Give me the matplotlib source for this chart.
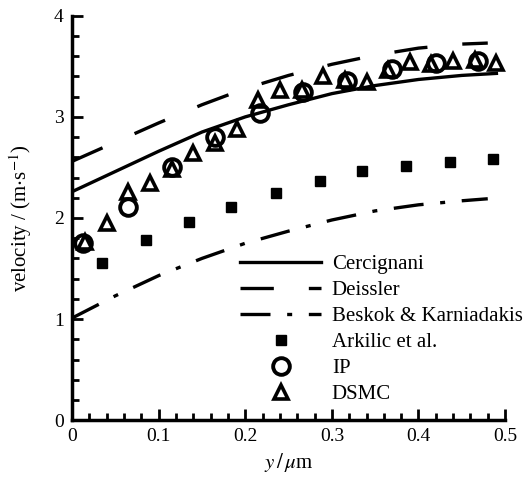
import numpy as np
import matplotlib
matplotlib.use('Agg')
import matplotlib.pyplot as plt
from matplotlib.ticker import MultipleLocator

plt.rcParams['font.family'] = 'Liberation Serif'
plt.rcParams['mathtext.fontset'] = 'stix'

# model curves
x_line = [0, 0.05, 0.1, 0.15, 0.2, 0.25, 0.3, 0.35, 0.4, 0.45, 0.49]
cercignani = [2.26, 2.46, 2.66, 2.85, 3.00, 3.12, 3.23, 3.31, 3.37, 3.41, 3.43]
x_deiss = [0, 0.05, 0.1, 0.15, 0.2, 0.25, 0.3, 0.35, 0.4, 0.45, 0.48]
deissler = [2.56, 2.75, 2.94, 3.12, 3.28, 3.41, 3.52, 3.61, 3.68, 3.72, 3.73]
beskok = [1.01, 1.23, 1.43, 1.60, 1.75, 1.87, 1.98, 2.07, 2.13, 2.17, 2.19]

# measured / simulated points
x_ark = [0.034, 0.085, 0.135, 0.184, 0.235, 0.286, 0.335, 0.386, 0.436, 0.486]
arkilic = [1.55, 1.78, 1.96, 2.11, 2.25, 2.37, 2.46, 2.51, 2.55, 2.58]
x_ip = [0.013, 0.065, 0.115, 0.165, 0.217, 0.267, 0.318, 0.369, 0.42, 0.469]
ip = [1.75, 2.11, 2.50, 2.80, 3.04, 3.25, 3.35, 3.47, 3.53, 3.55]
x_dsmc = [0.015, 0.04, 0.065, 0.09, 0.115, 0.14, 0.165, 0.19, 0.215, 0.24,
          0.265, 0.29, 0.315, 0.34, 0.365, 0.39, 0.415, 0.44, 0.465, 0.49]
dsmc = [1.76, 1.95, 2.26, 2.35, 2.48, 2.64, 2.74, 2.88, 3.17, 3.27,
        3.27, 3.40, 3.36, 3.34, 3.46, 3.54, 3.52, 3.55, 3.56, 3.53]

fig = plt.figure(figsize=(5.3, 4.78), dpi=100)
ax = fig.add_axes([0.136, 0.121, 0.817, 0.846])

lw = 2.4
ax.plot(x_line, cercignani, color='black', lw=lw, label='Cercignani')
ax.plot(x_deiss, deissler, color='black', lw=lw, dashes=(10, 10.5), label='Deissler')
ax.plot(x_deiss, beskok, color='black', lw=lw, dashes=(9, 5, 1.5, 5), label='Beskok & Karniadakis')
ax.plot(x_ark, arkilic, 's', color='black', ms=7.5, label='Arkilic et al.')
ax.plot(x_ip, ip, 'o', mfc='none', mec='black', mew=2.8, ms=12, label='IP')
ax.plot(x_dsmc, dsmc, '^', mfc='none', mec='black', mew=2.6, ms=10, label='DSMC')

ax.set_xlim(0, 0.5)
ax.set_ylim(0, 4)
ax.xaxis.set_minor_locator(MultipleLocator(0.02))
ax.yaxis.set_minor_locator(MultipleLocator(0.2))
ax.set_xticks([0, 0.1, 0.2, 0.3, 0.4, 0.5])
ax.set_xticklabels(['0', '0.1', '0.2', '0.3', '0.4', '0.5'])
ax.set_yticks([0, 1, 2, 3, 4])
ax.set_yticklabels(['0', '1', '2', '3', '4'])
ax.tick_params(which='both', direction='in', width=2, labelsize=14)
ax.tick_params(which='major', length=8, pad=6)
ax.tick_params(which='minor', length=5)
ax.spines['top'].set_visible(False)
ax.spines['right'].set_visible(False)
ax.spines['left'].set_linewidth(2.5)
ax.spines['bottom'].set_linewidth(2.5)

ax.set_xlabel(r'$y\,/\,\mu$m', fontsize=15)
ax.set_ylabel(r'velocity / (m$\cdot$s$^{-1}$)', fontsize=15, labelpad=14)

ax.legend(loc='upper left', bbox_to_anchor=(0.388, 0.41), frameon=False,
          fontsize=15, handlelength=3.9, numpoints=1, labelspacing=0.31,
          handletextpad=0.5, borderpad=0, borderaxespad=0)

fig.savefig('out.png', dpi=100)
